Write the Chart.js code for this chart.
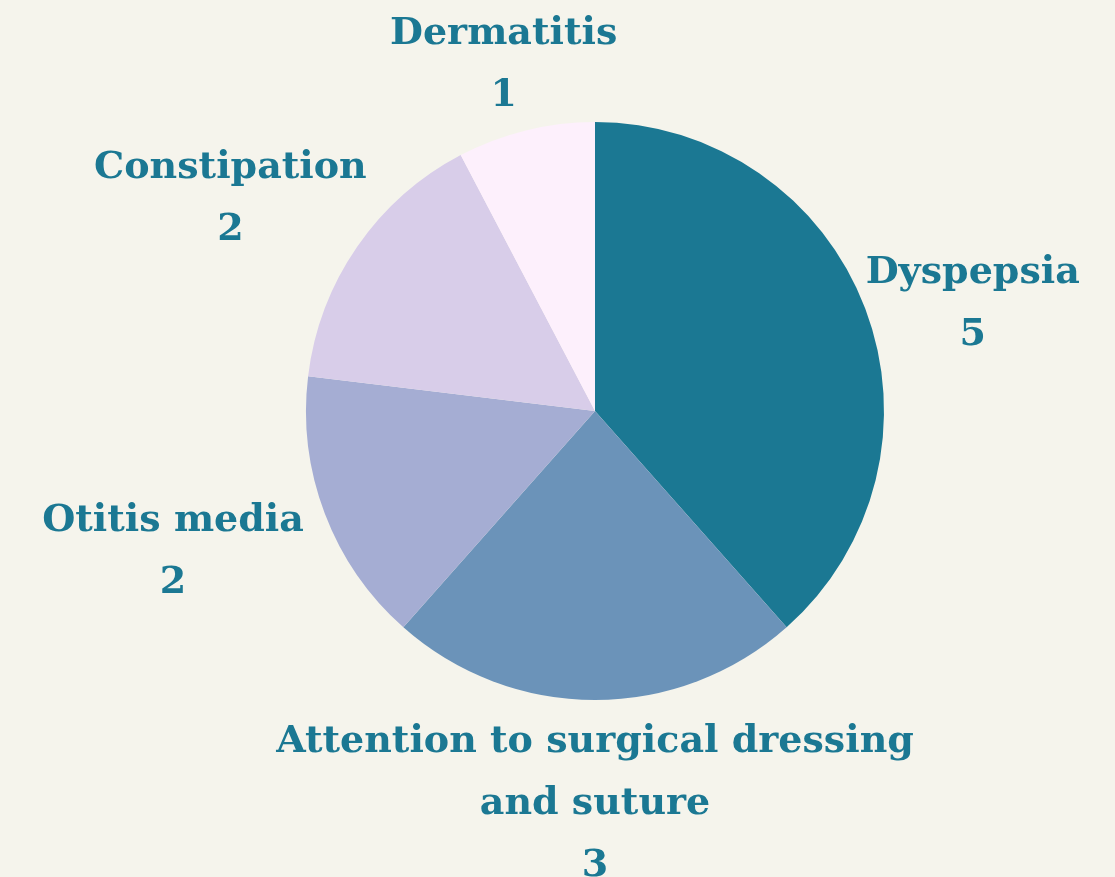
<!DOCTYPE html>
<html>
<head>
<meta charset="utf-8">
<script src="https://cdn.jsdelivr.net/npm/chart.js@4"></script>
<style>
  html, body { margin: 0; padding: 0; background: #f5f4ec; }
  #wrap { width: 1115px; height: 877px; }
</style>
</head>
<body>
<div id="wrap"><canvas id="pieChart" width="1115" height="877"></canvas></div>
<script>
const categories = ["Dyspepsia", "Attention to surgical dressing and suture", "Otitis media", "Constipation", "Dermatitis"];
const counts = [5, 3, 2, 2, 1];
const sliceColors = ["#1b7893", "#6b93b9", "#a5add3", "#d8cde9", "#fdf0fc"];

// outside labels, placed at the slice mid angle (small nudges keep them apart)
const outsideLabels = {
    id: 'outsideLabels',
    afterDatasetsDraw(chart, args, opts) {
        const ctx = chart.ctx;
        const arcs = chart.getDatasetMeta(0).data;
        ctx.save();
        ctx.font = opts.font;
        ctx.fillStyle = opts.color;
        ctx.textAlign = 'center';
        ctx.textBaseline = 'middle';
        arcs.forEach(function(arc, i) {
            const p = arc.getProps(['x', 'y', 'startAngle', 'endAngle', 'outerRadius'], true);
            const mid = (p.startAngle + p.endAngle) / 2;
            const dx = Math.cos(mid), dy = Math.sin(mid);
            // wrap the category text
            const words = chart.data.labels[i].split(' ');
            const lines = [];
            let cur = '';
            words.forEach(function(w) {
                const test = cur ? cur + ' ' + w : w;
                if (ctx.measureText(test).width > opts.maxWidth && cur) {
                    lines.push(cur);
                    cur = w;
                } else {
                    cur = test;
                }
            });
            lines.push(cur);
            lines.push(String(chart.data.datasets[0].data[i]));
            let w = 0;
            lines.forEach(function(l) { w = Math.max(w, ctx.measureText(l).width); });
            const h = lines.length * opts.lineHeight;
            const ax = p.x + dx * (p.outerRadius + opts.offset);
            const ay = p.y + dy * (p.outerRadius + opts.offset);
            const nudge = opts.nudges[i] || [0, 0];
            const cx = ax + dx * w / 2 + nudge[0];
            const cy = ay + dy * h / 2 + nudge[1];
            lines.forEach(function(l, k) {
                ctx.fillText(l, cx, cy - h / 2 + opts.lineHeight * (k + 0.5));
            });
        });
        ctx.restore();
    }
};

new Chart(document.getElementById('pieChart').getContext('2d'), {
    type: 'pie',
    data: {
        labels: categories,
        datasets: [{
            data: counts,
            backgroundColor: sliceColors,
            borderWidth: 0
        }]
    },
    options: {
        responsive: false,
        animation: false,
        layout: {
            padding: { top: 122, bottom: 177, left: 306, right: 231 }
        },
        plugins: {
            legend: { display: false },
            tooltip: { enabled: false },
            outsideLabels: {
                font: 'bold 38px "DejaVu Serif"',
                color: '#1b7893',
                lineHeight: 62,
                offset: 25,
                maxWidth: 690,
                nudges: [[-16, 26], [0, -14], [-6, 8], [6, 2], [11, 19]]
            }
        }
    },
    plugins: [outsideLabels]
});
</script>
</body>
</html>
